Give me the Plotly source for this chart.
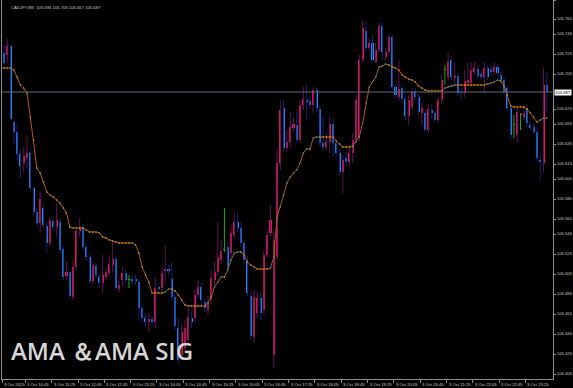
import plotly.graph_objects as go

# ---------------- data (CADJPY M5, 3 Oct 2025, 10:05 .. 23:55) ----------------
open_ = [105.696,105.726,105.724,105.733,105.657,105.647,105.625,105.616,105.621,105.626,
105.591,105.567,105.556,105.571,105.553,105.536,105.558,105.552,105.557,105.530,
105.503,105.507,105.482,105.512,105.548,105.552,105.532,105.522,105.498,105.513,
105.502,105.496,105.502,105.506,105.514,105.520,105.490,105.499,105.506,105.499,
105.500,105.500,105.497,105.471,105.461,105.457,105.460,105.457,105.492,105.491,
105.508,105.510,105.500,105.482,105.451,105.424,105.431,105.439,105.461,105.461,
105.484,105.492,105.477,105.469,105.479,105.499,105.507,105.519,105.529,105.532,
105.526,105.544,105.557,105.551,105.536,105.519,105.483,105.442,105.466,105.481,
105.469,105.524,105.546,105.424,105.522,105.616,105.671,105.631,105.637,105.651,
105.654,105.639,105.674,105.679,105.678,105.674,105.689,105.670,105.636,105.632,
105.637,105.655,105.636,105.626,105.607,105.621,105.617,105.626,105.639,105.641,
105.719,105.748,105.731,105.736,105.717,105.729,105.753,105.722,105.727,105.742,
105.692,105.682,105.691,105.680,105.663,105.672,105.688,105.682,105.666,105.666,
105.649,105.669,105.666,105.659,105.679,105.709,105.702,105.719,105.701,105.703,
105.687,105.686,105.696,105.696,105.707,105.710,105.705,105.702,105.711,105.710,
105.707,105.712,105.704,105.699,105.691,105.671,105.654,105.644,105.664,105.662,
105.671,105.654,105.652,105.647,105.619,105.616,105.694]
close = [105.716,105.716,105.733,105.660,105.647,105.625,105.613,105.623,105.626,105.591,
105.567,105.556,105.580,105.554,105.536,105.559,105.552,105.559,105.529,105.502,
105.507,105.483,105.512,105.548,105.552,105.532,105.522,105.498,105.514,105.504,
105.496,105.504,105.507,105.515,105.520,105.491,105.494,105.506,105.499,105.499,
105.498,105.498,105.471,105.461,105.457,105.460,105.457,105.491,105.490,105.506,
105.510,105.508,105.482,105.453,105.419,105.447,105.451,105.462,105.457,105.484,
105.492,105.479,105.471,105.477,105.501,105.507,105.522,105.528,105.529,105.511,
105.546,105.557,105.551,105.536,105.519,105.486,105.443,105.482,105.481,105.466,
105.524,105.544,105.559,105.539,105.616,105.669,105.631,105.637,105.652,105.655,
105.639,105.674,105.680,105.677,105.674,105.689,105.671,105.636,105.632,105.637,
105.655,105.636,105.626,105.607,105.619,105.617,105.626,105.639,105.679,105.719,
105.751,105.731,105.736,105.719,105.729,105.753,105.727,105.727,105.742,105.692,
105.684,105.690,105.680,105.663,105.679,105.687,105.682,105.667,105.671,105.649,
105.670,105.666,105.659,105.679,105.699,105.709,105.717,105.702,105.703,105.686,
105.686,105.698,105.699,105.709,105.711,105.703,105.702,105.711,105.702,105.707,
105.712,105.706,105.699,105.687,105.671,105.644,105.654,105.667,105.664,105.666,
105.656,105.651,105.647,105.621,105.617,105.694,105.687]
high = [105.724,105.734,105.740,105.734,105.659,105.654,105.629,105.632,105.644,105.629,
105.593,105.571,105.587,105.574,105.557,105.562,105.561,105.575,105.560,105.533,
105.517,105.510,105.519,105.552,105.561,105.555,105.535,105.526,105.517,105.516,
105.505,105.524,105.511,105.524,105.537,105.523,105.498,105.512,105.509,105.504,
105.503,105.504,105.500,105.474,105.466,105.466,105.463,105.502,105.495,105.512,
105.534,105.514,105.517,105.485,105.461,105.454,105.459,105.471,105.467,105.489,
105.499,105.497,105.481,105.483,105.509,105.517,105.557,105.539,105.571,105.537,
105.554,105.567,105.566,105.557,105.539,105.523,105.487,105.489,105.487,105.487,
105.529,105.549,105.574,105.547,105.629,105.679,105.679,105.649,105.667,105.661,
105.669,105.679,105.693,105.696,105.683,105.692,105.691,105.674,105.662,105.646,
105.662,105.661,105.639,105.629,105.624,105.627,105.631,105.646,105.684,105.724,
105.759,105.757,105.741,105.744,105.737,105.756,105.756,105.731,105.744,105.744,
105.694,105.719,105.693,105.684,105.684,105.691,105.691,105.685,105.676,105.669,
105.674,105.675,105.669,105.682,105.704,105.714,105.726,105.722,105.716,105.706,
105.691,105.709,105.716,105.717,105.717,105.713,105.708,105.717,105.714,105.714,
105.717,105.715,105.707,105.701,105.694,105.674,105.664,105.671,105.666,105.672,
105.674,105.657,105.655,105.649,105.624,105.712,105.706]
low = [105.694,105.713,105.716,105.659,105.636,105.619,105.601,105.606,105.611,105.589,
105.564,105.553,105.546,105.551,105.526,105.533,105.549,105.542,105.526,105.499,
105.499,105.480,105.479,105.509,105.542,105.529,105.519,105.496,105.495,105.501,
105.492,105.486,105.499,105.502,105.506,105.488,105.487,105.492,105.496,105.491,
105.495,105.494,105.459,105.457,105.452,105.447,105.454,105.451,105.487,105.486,
105.496,105.504,105.479,105.449,105.416,105.419,105.427,105.434,105.451,105.457,
105.481,105.474,105.467,105.464,105.475,105.494,105.503,105.515,105.527,105.507,
105.521,105.541,105.547,105.533,105.515,105.483,105.439,105.437,105.461,105.459,
105.464,105.521,105.543,105.411,105.519,105.609,105.627,105.627,105.631,105.647,
105.636,105.636,105.669,105.659,105.671,105.666,105.667,105.633,105.629,105.629,
105.626,105.622,105.623,105.604,105.586,105.613,105.613,105.616,105.636,105.637,
105.717,105.727,105.728,105.717,105.716,105.727,105.719,105.719,105.724,105.689,
105.681,105.679,105.677,105.659,105.654,105.669,105.679,105.664,105.654,105.647,
105.646,105.661,105.657,105.656,105.676,105.694,105.699,105.699,105.696,105.683,
105.679,105.682,105.693,105.693,105.704,105.700,105.699,105.686,105.699,105.704,
105.704,105.703,105.696,105.684,105.668,105.639,105.641,105.636,105.649,105.659,
105.653,105.648,105.644,105.617,105.599,105.606,105.667]
ama = [105.711,105.711,105.711,105.711,105.709,105.702,105.694,105.691,105.686,105.662,
105.639,105.611,105.606,105.597,105.587,105.584,105.582,105.579,105.576,105.571,
105.566,105.552,105.551,105.551,105.551,105.551,105.549,105.547,105.547,105.547,
105.546,105.542,105.541,105.539,105.538,105.537,105.536,105.536,105.536,105.536,
105.536,105.534,105.526,105.512,105.504,105.497,105.486,105.486,105.486,105.486,
105.487,105.490,105.490,105.488,105.484,105.479,105.474,105.473,105.473,105.473,
105.473,105.473,105.473,105.476,105.482,105.492,105.497,105.502,105.502,105.509,
105.519,105.526,105.527,105.527,105.524,105.517,105.514,105.512,105.510,105.510,
105.510,105.510,105.511,105.522,105.562,105.572,105.584,105.596,105.602,105.606,
105.609,105.616,105.626,105.630,105.630,105.641,105.642,105.642,105.642,105.642,
105.642,105.642,105.638,105.635,105.632,105.632,105.632,105.633,105.637,105.642,
105.656,105.676,105.692,105.697,105.702,105.712,105.713,105.715,105.714,105.712,
105.711,105.709,105.704,105.702,105.700,105.699,105.697,105.693,105.691,105.689,
105.688,105.688,105.688,105.688,105.688,105.691,105.692,105.693,105.694,105.694,
105.694,105.694,105.694,105.694,105.694,105.694,105.694,105.694,105.695,105.696,
105.697,105.699,105.698,105.693,105.684,105.673,105.672,105.672,105.672,105.672,
105.670,105.666,105.662,105.657,105.659,105.661,105.661]

tick_bars = [0, 8, 16, 24, 32, 40, 48, 56, 64, 72, 80, 88, 96, 104, 112, 120, 128, 136, 144, 152, 160]
tick_text = ["3 Oct 2025", "3 Oct 10:45", "3 Oct 11:25", "3 Oct 12:05", "3 Oct 12:45", "3 Oct 13:25",
             "3 Oct 14:05", "3 Oct 14:45", "3 Oct 15:25", "3 Oct 16:05", "3 Oct 16:45", "3 Oct 17:25",
             "3 Oct 18:05", "3 Oct 18:45", "3 Oct 19:25", "3 Oct 20:05", "3 Oct 20:45", "3 Oct 21:25",
             "3 Oct 22:05", "3 Oct 22:45", "3 Oct 23:25"]
price_ticks = [105.779, 105.760, 105.745, 105.725, 105.705, 105.670, 105.655, 105.635, 105.615, 105.600,
               105.580, 105.560, 105.545, 105.525, 105.505, 105.485, 105.465, 105.445, 105.425, 105.405]
price_tick_text = ["105.780", "105.760", "105.745", "105.725", "105.705", "105.670", "105.655", "105.635",
                   "105.615", "105.600", "105.580", "105.560", "105.545", "105.525", "105.505", "105.485",
                   "105.465", "105.445", "105.425", "105.405"]
symbol = "CADJPY,M5"
last_price = 105.687

# ---------------- styling ----------------
BULL_BODY, BEAR_BODY, DOJI = "#F2155E", "#1E90FF", "#1DA51D"
BULL_WICK, BEAR_WICK = "#5E1158", "#16226E"
AMA_LINE = "#B0581C"

x = list(range(len(open_)))
fig = go.Figure()

# wicks
groups = {"bull": ([], [], BULL_WICK), "bear": ([], [], BEAR_WICK), "doji": ([], [], DOJI)}
kinds = []
for i in x:
    o, c = open_[i], close[i]
    k = "bull" if c > o else ("bear" if c < o else "doji")
    kinds.append(k)
    gx, gy, _ = groups[k]
    gx += [i, i, None]
    gy += [low[i], high[i], None]
for k, (gx, gy, col) in groups.items():
    fig.add_trace(go.Scatter(x=gx, y=gy, mode="lines", line=dict(color=col, width=1),
                             hoverinfo="skip", showlegend=False))

# bodies
base = [min(open_[i], close[i]) for i in x]
height = [max(abs(close[i] - open_[i]), 0.0009) for i in x]
body_col = [BULL_BODY if k == "bull" else (BEAR_BODY if k == "bear" else DOJI) for k in kinds]
fig.add_trace(go.Bar(x=x, y=height, base=base, width=0.62, marker=dict(color=body_col, line_width=0),
                     showlegend=False, hoverinfo="skip"))

# AMA line with signal dots
dot_col = ["#D9A400"] + ["#2FA5B8" if ama[i] > ama[i - 1] else "#D9A400" for i in x[1:]]
fig.add_trace(go.Scatter(x=x, y=ama, mode="lines+markers", line=dict(color=AMA_LINE, width=1),
                         marker=dict(size=1.6, color=dot_col), showlegend=False, hoverinfo="skip"))

# current price line
fig.add_shape(type="line", xref="paper", x0=0, x1=1, yref="y", y0=last_price, y1=last_price,
              line=dict(color="#5C6B76", width=1))

ann = []
tick_pos = [max(b - 0.5, 0.45) for b in tick_bars]
for p, t in zip(tick_pos, tick_text):
    ann.append(dict(x=p, y=0, xref="x", yref="paper", text=t, showarrow=False, xanchor="left",
                    yanchor="top", xshift=0, yshift=-1, font=dict(size=4.2, color="#C8C8C8",
                    family="Liberation Sans")))
ann.append(dict(x=1, y=last_price, xref="paper", yref="y", text=f"{last_price:.3f}", showarrow=False,
                xanchor="left", yanchor="middle", xshift=1, bgcolor="#FFFFFF", borderpad=0,
                font=dict(size=4.2, color="#000000", family="Liberation Sans")))
ann.append(dict(x=0.0125, y=0.993, xref="paper", yref="paper",
                text=f"{symbol}  {open_[-1]:.3f} {high[-1]:.3f} {low[-1]:.3f} {close[-1]:.3f}",
                showarrow=False, xanchor="left", yanchor="top",
                font=dict(size=4.2, color="#C8C8C8", family="Liberation Sans")))
ann.append(dict(x=0.0125, y=0.076, xref="paper", yref="paper", text="AMA ＆AMA SIG", showarrow=False,
                xanchor="left", yanchor="middle",
                font=dict(size=24, color="#D6D6D6", family="Open Sans", weight=600)))

fig.update_layout(
    width=573, height=388, margin=dict(l=2, r=20, t=0, b=9),
    paper_bgcolor="#000000", plot_bgcolor="#000000", bargap=0, barmode="overlay",
    annotations=ann, showlegend=False,
    xaxis=dict(range=[0.395, 167.87], showgrid=False, zeroline=False, showline=True,
               linecolor="#8C8C8C", linewidth=1, tickvals=tick_pos, ticktext=[""] * len(tick_pos),
               ticks="outside", ticklen=3, tickcolor="#8C8C8C", fixedrange=True),
    yaxis=dict(range=[105.400, 105.779], side="right", showgrid=False, zeroline=False, showline=True,
               mirror=True, linecolor="#8C8C8C", linewidth=1, tickvals=price_ticks, ticktext=price_tick_text,
               ticks="outside", ticklen=2, tickcolor="#8C8C8C",
               tickfont=dict(size=4.2, color="#C8C8C8", family="Liberation Sans")),
)
fig.write_html("out.html")
